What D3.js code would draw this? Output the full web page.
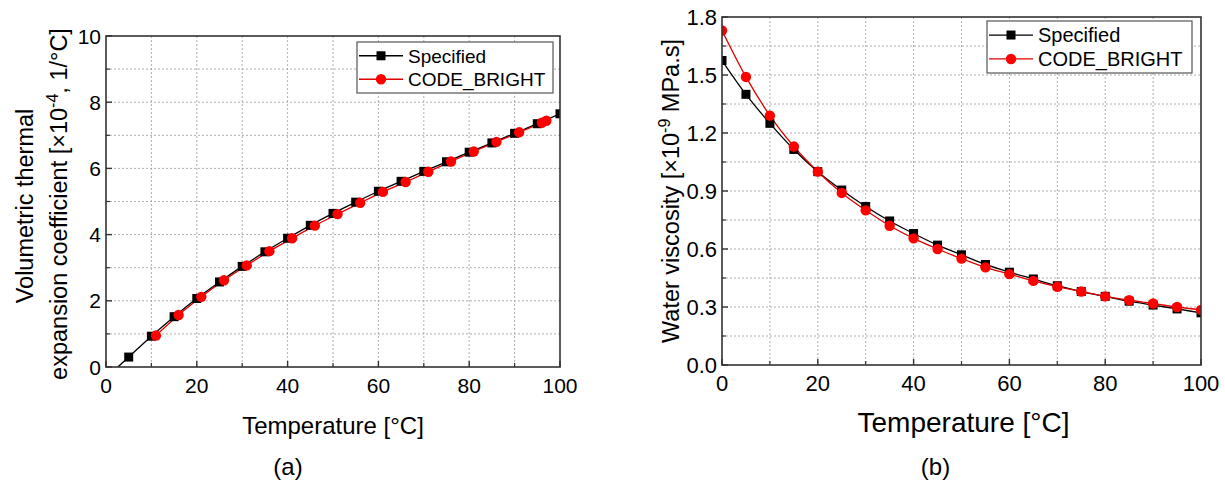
<!DOCTYPE html>
<html>
<head>
<meta charset="utf-8">
<script src="https://cdn.jsdelivr.net/npm/d3@7"></script>
<style>
  body { margin: 0; background: #fff; }
  svg { font-family: Arial, "Liberation Sans", sans-serif; }
</style>
</head>
<body>
<script>
// chart (a): volumetric thermal expansion coefficient
const tempA_spec = [0, 5, 10, 15, 20, 25, 30, 35, 40, 45, 50, 55, 60, 65, 70, 75, 80, 85, 90, 95, 100];
const alpha_spec = [-0.33, 0.3, 0.93, 1.52, 2.07, 2.57, 3.04, 3.48, 3.89, 4.28, 4.64, 4.98, 5.31, 5.61, 5.91, 6.2, 6.49, 6.77, 7.06, 7.35, 7.65];
const tempA_cb = [11, 16, 21, 26, 31, 36, 41, 46, 51, 56, 61, 66, 71, 76, 81, 86, 91, 96, 97];
const alpha_cb = [0.95, 1.57, 2.12, 2.62, 3.07, 3.5, 3.89, 4.27, 4.62, 4.96, 5.29, 5.59, 5.9, 6.21, 6.51, 6.8, 7.09, 7.38, 7.44];

// chart (b): water viscosity
const tempB = [0, 5, 10, 15, 20, 25, 30, 35, 40, 45, 50, 55, 60, 65, 70, 75, 80, 85, 90, 95, 100];
const visc_spec = [1.575, 1.40, 1.25, 1.115, 1.0, 0.905, 0.82, 0.745, 0.68, 0.62, 0.57, 0.52, 0.48, 0.445, 0.41, 0.38, 0.355, 0.33, 0.31, 0.29, 0.27];
const visc_cb = [1.73, 1.49, 1.29, 1.13, 1.0, 0.89, 0.80, 0.72, 0.655, 0.60, 0.55, 0.505, 0.47, 0.435, 0.405, 0.38, 0.355, 0.335, 0.318, 0.30, 0.285];

const xTicks = [0, 20, 40, 60, 80, 100];
const yTicksA = [0, 2, 4, 6, 8, 10];
const yTicksB = [0, 0.3, 0.6, 0.9, 1.2, 1.5, 1.8];
const seriesNames = ["Specified", "CODE_BRIGHT"];

const svg = d3.select("body").append("svg")
  .attr("width", 1225)
  .attr("height", 488);

function drawPanel(opt) {
  const x = d3.scaleLinear().domain([0, 100]).range([opt.left, opt.right]);
  const y = d3.scaleLinear().domain(opt.yDomain).range([opt.bottom, opt.top]);
  const g = svg.append("g");

  // grid (major + minor)
  const xGrid = d3.range(10, 100, 10);
  const yGrid = d3.range(opt.yDomain[0] + opt.yMinor, opt.yDomain[1] - 1e-9, opt.yMinor);
  g.selectAll(".gx").data(xGrid).enter().append("line")
    .attr("x1", d => x(d)).attr("x2", d => x(d))
    .attr("y1", opt.top).attr("y2", opt.bottom)
    .attr("stroke", "#9a9a9a").attr("stroke-width", 0.8).attr("stroke-dasharray", "2,2");
  g.selectAll(".gy").data(yGrid).enter().append("line")
    .attr("x1", opt.left).attr("x2", opt.right)
    .attr("y1", d => y(d)).attr("y2", d => y(d))
    .attr("stroke", "#9a9a9a").attr("stroke-width", 0.8).attr("stroke-dasharray", "2,2");

  // clip
  const clipId = "clip" + opt.id;
  svg.append("clipPath").attr("id", clipId).append("rect")
    .attr("x", opt.left).attr("y", opt.top)
    .attr("width", opt.right - opt.left).attr("height", opt.bottom - opt.top);

  const line = d3.line().x(d => x(d[0])).y(d => y(d[1])).curve(d3.curveMonotoneX);
  const dg = g.append("g").attr("clip-path", `url(#${clipId})`);

  const spec = opt.specX.map((t, i) => [t, opt.specY[i]]);
  const cb = opt.cbX.map((t, i) => [t, opt.cbY[i]]);

  dg.append("path").datum(spec).attr("d", line)
    .attr("fill", "none").attr("stroke", "#000").attr("stroke-width", 1.3);
  dg.append("path").datum(cb).attr("d", line)
    .attr("fill", "none").attr("stroke", "#e00000").attr("stroke-width", 1.3);

  dg.selectAll(".sq").data(spec).enter().append("rect")
    .attr("x", d => x(d[0]) - 4.5).attr("y", d => y(d[1]) - 4.5)
    .attr("width", 9).attr("height", 9).attr("fill", "#000");
  dg.selectAll(".ci").data(cb).enter().append("circle")
    .attr("cx", d => x(d[0])).attr("cy", d => y(d[1])).attr("r", 5.2)
    .attr("fill", "#ff0000");

  // frame
  g.append("rect")
    .attr("x", opt.left).attr("y", opt.top)
    .attr("width", opt.right - opt.left).attr("height", opt.bottom - opt.top)
    .attr("fill", "none").attr("stroke", "#333").attr("stroke-width", 1.6);

  // ticks (inward), major + minor
  const xMinor = d3.range(10, 100, 20);
  g.selectAll(".xt").data(xTicks).enter().append("line")
    .attr("x1", d => x(d)).attr("x2", d => x(d))
    .attr("y1", opt.bottom).attr("y2", opt.bottom - 6)
    .attr("stroke", "#333").attr("stroke-width", 1.4);
  g.selectAll(".xm").data(xMinor).enter().append("line")
    .attr("x1", d => x(d)).attr("x2", d => x(d))
    .attr("y1", opt.bottom).attr("y2", opt.bottom - 4)
    .attr("stroke", "#333").attr("stroke-width", 1.2);
  g.selectAll(".yt").data(opt.yTicks).enter().append("line")
    .attr("x1", opt.left).attr("x2", opt.left + 6)
    .attr("y1", d => y(d)).attr("y2", d => y(d))
    .attr("stroke", "#333").attr("stroke-width", 1.4);
  const yMinorTicks = opt.yTicks.slice(0, -1).map((d, i) => (d + opt.yTicks[i + 1]) / 2);
  g.selectAll(".ym").data(yMinorTicks).enter().append("line")
    .attr("x1", opt.left).attr("x2", opt.left + 4)
    .attr("y1", d => y(d)).attr("y2", d => y(d))
    .attr("stroke", "#333").attr("stroke-width", 1.2);

  // tick labels
  g.selectAll(".xl").data(xTicks).enter().append("text")
    .attr("x", d => x(d)).attr("y", opt.bottom + 26)
    .attr("text-anchor", "middle").attr("font-size", opt.tickSize)
    .text(d => d);
  g.selectAll(".yl").data(opt.yTicks).enter().append("text")
    .attr("x", opt.left - 5).attr("y", d => y(d) + opt.tickSize * 0.36)
    .attr("text-anchor", "end").attr("font-size", opt.tickSize)
    .text(opt.yFormat);

  // x title
  g.append("text")
    .attr("x", (opt.left + opt.right) / 2 + opt.xTitleShift).attr("y", opt.xTitleY)
    .attr("text-anchor", "middle").attr("font-size", opt.xTitleSize)
    .text("Temperature [°C]");

  // panel label
  g.append("text")
    .attr("x", (opt.left + opt.right) / 2 + opt.labelShift).attr("y", 475)
    .attr("text-anchor", "middle").attr("font-size", 24)
    .text(opt.label);

  // legend
  const L = opt.legend;
  g.append("rect").attr("x", L.x).attr("y", L.y).attr("width", L.w).attr("height", L.h)
    .attr("fill", "#fff").attr("stroke", "#555").attr("stroke-width", 1.2);
  seriesNames.forEach((name, i) => {
    const cy = L.y + L.h * (i === 0 ? 0.27 : 0.73);
    const col = i === 0 ? "#000" : "#e00000";
    g.append("line").attr("x1", L.x + 2).attr("x2", L.x + 46)
      .attr("y1", cy).attr("y2", cy).attr("stroke", col).attr("stroke-width", 1.3);
    if (i === 0) {
      g.append("rect").attr("x", L.x + 24 - 4.5).attr("y", cy - 4.5)
        .attr("width", 9).attr("height", 9).attr("fill", "#000");
    } else {
      g.append("circle").attr("cx", L.x + 24).attr("cy", cy).attr("r", 5.2).attr("fill", "#ff0000");
    }
    g.append("text").attr("x", L.x + 51).attr("y", cy + L.fs * 0.36)
      .attr("font-size", L.fs).text(name);
  });

  return g;
}

const gA = drawPanel({
  id: "a", left: 106, right: 560, top: 36, bottom: 367,
  yDomain: [0, 10], yMinor: 1, yTicks: yTicksA, yFormat: d => d,
  specX: tempA_spec, specY: alpha_spec, cbX: tempA_cb, cbY: alpha_cb,
  tickSize: 21, xTitleSize: 24, xTitleY: 434, xTitleShift: 0, label: "(a)", labelShift: -45,
  legend: { x: 357, y: 42, w: 196, h: 51, fs: 19 }
});

const gB = drawPanel({
  id: "b", left: 722, right: 1201, top: 17, bottom: 365,
  yDomain: [0, 1.8], yMinor: 0.15, yTicks: yTicksB, yFormat: d => d.toFixed(1),
  specX: tempB, specY: visc_spec, cbX: tempB, cbY: visc_cb,
  tickSize: 22, xTitleSize: 28, xTitleY: 432, xTitleShift: 2, label: "(b)", labelShift: -26,
  legend: { x: 987, y: 21, w: 205, h: 52, fs: 20 }
});

// y titles (rotated, with superscripts)
const tA1 = svg.append("text")
  .attr("transform", "translate(33,206) rotate(-90)")
  .attr("text-anchor", "middle").attr("font-size", 23.5)
  .text("Volumetric thermal");
const tA2 = svg.append("text")
  .attr("transform", "translate(67,204) rotate(-90)")
  .attr("text-anchor", "middle").attr("font-size", 23.5);
tA2.append("tspan").text("expansion coefficient [×10");
tA2.append("tspan").attr("dy", -9).attr("font-size", 16).text("-4");
tA2.append("tspan").attr("dy", 9).text(", 1/°C]");

const tB = svg.append("text")
  .attr("transform", "translate(679,191) rotate(-90)")
  .attr("text-anchor", "middle").attr("font-size", 23.5);
tB.append("tspan").text("Water viscosity [×10");
tB.append("tspan").attr("dy", -9).attr("font-size", 16).text("-9");
tB.append("tspan").attr("dy", 9).text(" MPa.s]");
</script>
</body>
</html>
